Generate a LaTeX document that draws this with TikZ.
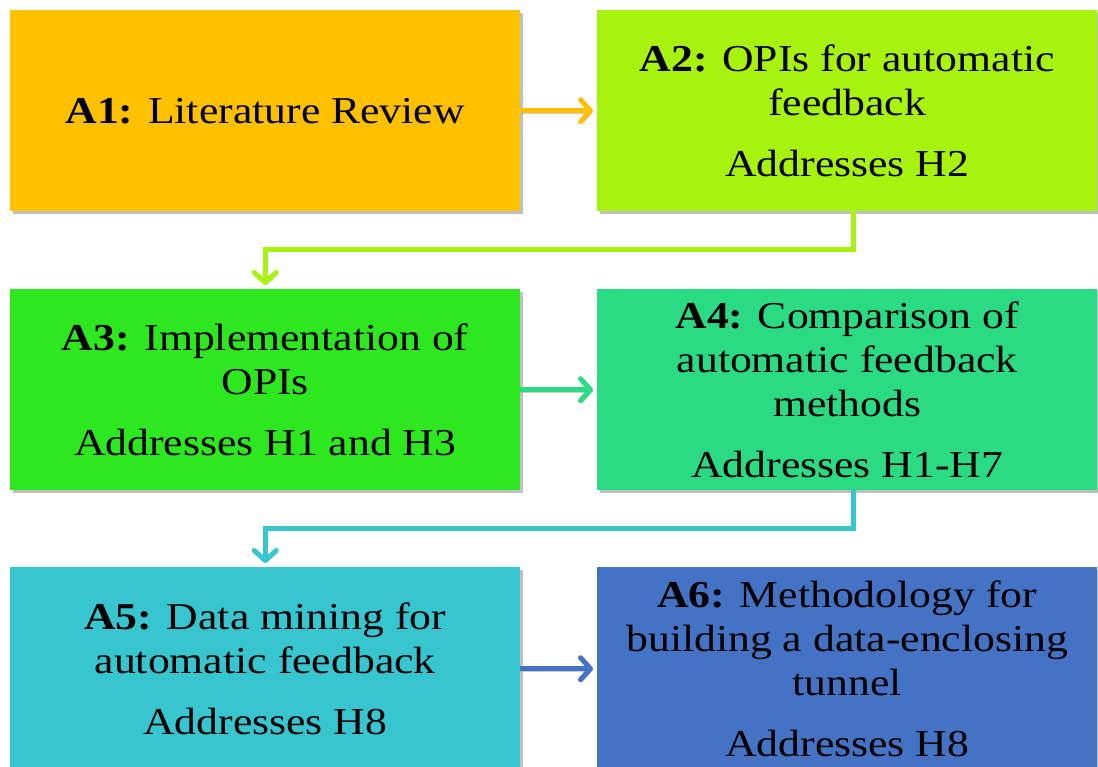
\documentclass[tikz,border=0pt]{standalone}
\usepackage{fontspec}
\setmainfont{Liberation Serif}[FakeStretch=1.15]
\usetikzlibrary{arrows.meta,shadows}

\definecolor{cA}{HTML}{FFC000}
\definecolor{cB}{HTML}{A8F20F}
\definecolor{cC}{HTML}{2EE81F}
\definecolor{cD}{HTML}{2BDB84}
\definecolor{cE}{HTML}{37C5CF}
\definecolor{cF}{HTML}{4472C4}

\tikzset{
  stage/.style={rectangle, anchor=north west, inner sep=0pt,
    minimum width=510pt, minimum height=201pt, align=center,
    font=\fontsize{38}{44}\selectfont,
    drop shadow={shadow xshift=3pt, shadow yshift=-3pt, opacity=0.35, fill=black!70}},
  flow/.style={line width=5pt, shorten >=4pt,
    -{Straight Barb[length=10pt,width=22pt,round]},
    preaction={draw=black, opacity=0.2, transform canvas={shift={(2pt,-2pt)}}}},
}

\begin{document}
\begin{tikzpicture}[x=1pt, y=-1pt]
  \useasboundingbox (0,0) rectangle (1098,766);
  \fill[white] (0,0) rectangle (1098,766);

  % boxes
  \node[stage, fill=cA] (A1) at (10,10)
    {\textbf{A1:} Literature Review};
  \node[stage, fill=cB, minimum width=500pt] (A2) at (597,10)
    {\textbf{A2:} OPIs for automatic\\feedback\\[17pt]Addresses H2};
  \node[stage, fill=cC] (A3) at (10,289)
    {\textbf{A3:} Implementation of\\OPIs\\[17pt]Addresses H1 and H3};
  \node[stage, fill=cD, minimum width=500pt] (A4) at (597,289)
    {\textbf{A4:} Comparison of\\automatic feedback\\methods\\[17pt]Addresses H1-H7};
  \node[stage, fill=cE, minimum height=203pt] (A5) at (10,567)
    {\textbf{A5:} Data mining for\\automatic feedback\\[17pt]Addresses H8};
  \node[stage, fill=cF, minimum width=500pt, minimum height=203pt] (A6) at (597,567)
    {\textbf{A6:} Methodology for\\building a data-enclosing\\tunnel\\[17pt]Addresses H8};

  % connectors
  \draw[flow, draw=cA] (A1.east) -- (A2.west);
  \draw[flow, draw=cB] ([xshift=6pt]A2.south) -- ++(0,38) -| (A3.north);
  \draw[flow, draw=cD] (A3.east) -- (A4.west);
  \draw[flow, draw=cE] ([xshift=6pt]A4.south) -- ++(0,38) -| (A5.north);
  \draw[flow, draw=cF] (A5.east) -- (A6.west);
\end{tikzpicture}
\end{document}
